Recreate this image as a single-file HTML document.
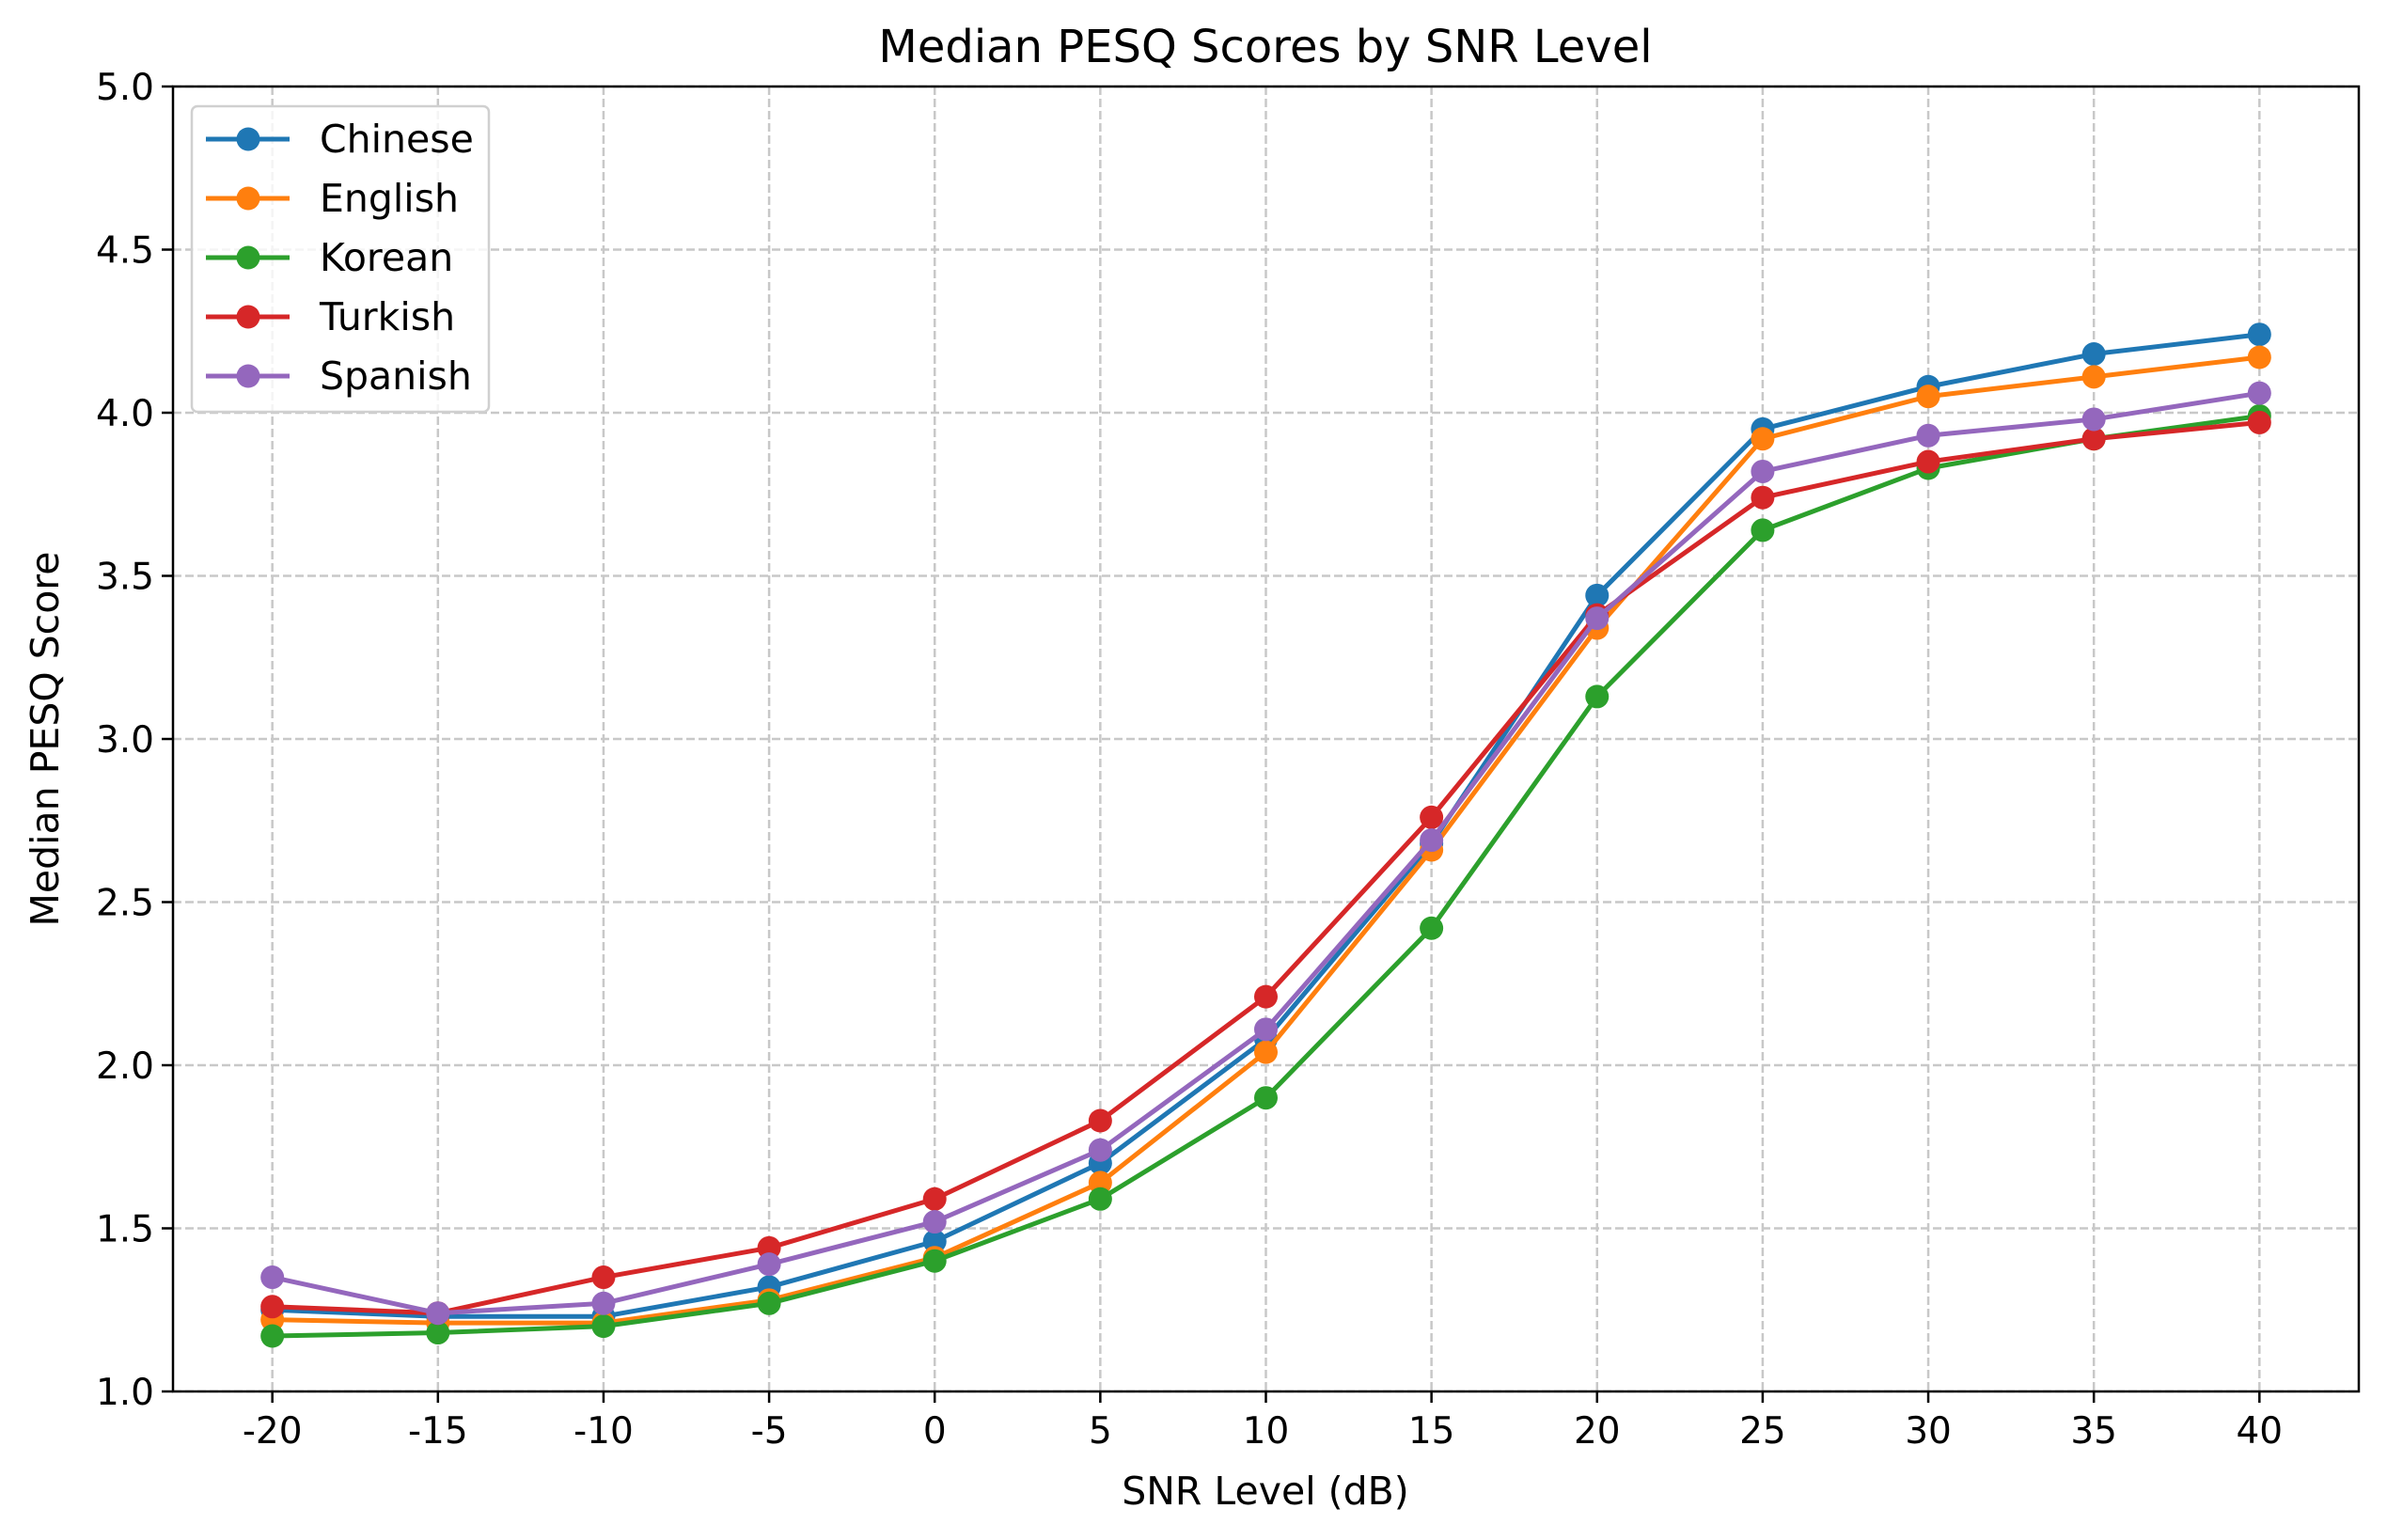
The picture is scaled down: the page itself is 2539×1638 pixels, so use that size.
<!DOCTYPE html>
<html><head><meta charset="utf-8"><style>
html,body{margin:0;padding:0;background:#fff;}
svg{display:block;font-family:"DejaVu Sans","Liberation Sans",sans-serif;}
</style></head><body>
<svg id="chart" width="2539" height="1638" viewBox="0 0 2539 1638">
<rect width="2539" height="1638" fill="#fff"/>
<g id="grid"></g>
<g id="series"></g>
<rect x="184" y="92" width="2325" height="1388" fill="none" stroke="#000" stroke-width="2.5"/>
<g id="ticks"></g>
<text x="1346" y="66" font-size="48" text-anchor="middle">Median PESQ Scores by SNR Level</text>
<text x="1346" y="1600" font-size="41" text-anchor="middle">SNR Level (dB)</text>
<text x="62" y="786" font-size="41" text-anchor="middle" transform="rotate(-90 62 786)">Median PESQ Score</text>
<g id="legend">
<rect x="204" y="113" width="316" height="325" rx="6" fill="#fff" fill-opacity="0.8" stroke="#d0d0d0" stroke-width="2.5"/>
</g>
</svg>
<script>
const categories = ["-20","-15","-10","-5","0","5","10","15","20","25","30","35","40"];
const seriesNames = ["Chinese","English","Korean","Turkish","Spanish"];
const chinese = [1.25,1.23,1.23,1.32,1.46,1.70,2.08,2.68,3.44,3.95,4.08,4.18,4.24];
const english = [1.22,1.21,1.21,1.28,1.41,1.64,2.04,2.66,3.34,3.92,4.05,4.11,4.17];
const korean  = [1.17,1.18,1.20,1.27,1.40,1.59,1.90,2.42,3.13,3.64,3.83,3.92,3.99];
const turkish = [1.26,1.24,1.35,1.44,1.59,1.83,2.21,2.76,3.38,3.74,3.85,3.92,3.97];
const spanish = [1.35,1.24,1.27,1.39,1.52,1.74,2.11,2.69,3.37,3.82,3.93,3.98,4.06];
const yTicks = [1.0,1.5,2.0,2.5,3.0,3.5,4.0,4.5,5.0];
const yTickLabels = ["1.0","1.5","2.0","2.5","3.0","3.5","4.0","4.5","5.0"];

const colors = ["#1f77b4","#ff7f0e","#2ca02c","#d62728","#9467bd"];
const allSeries = [chinese,english,korean,turkish,spanish];
const L=184,R=2509,T=92,B=1480;
const n=categories.length;
const step=(R-L)/(n-1+1.2);
function xScale(i){return L+step*(0.6+i);}
function yScale(v){return B-(v-1)/(5-1)*(B-T);}
const NS="http://www.w3.org/2000/svg";
function mk(tag,attrs,parent){const e=document.createElementNS(NS,tag);for(const k in attrs)e.setAttribute(k,attrs[k]);parent.appendChild(e);return e;}
const grid=document.getElementById('grid'),ticks=document.getElementById('ticks'),ser=document.getElementById('series'),leg=document.getElementById('legend');
categories.forEach((c,i)=>{
  const x=xScale(i);
  const g=mk('line',{x1:x,x2:x,y1:T,y2:B,stroke:'#c8c8c8','stroke-width':2.5,'stroke-dasharray':'9,4'},grid);
  
  
  const t=mk('line',{x1:x,x2:x,y1:B,y2:B+12,stroke:'#000','stroke-width':2.5},ticks);
  
  
  const l=mk('text',{x:x,y:B+55,'font-size':39,'text-anchor':'middle'},ticks);
  l.textContent=c;
  
  
});
yTicks.forEach((v,i)=>{
  const y=yScale(v);
  const g=mk('line',{x1:L,x2:R,y1:y,y2:y,stroke:'#c8c8c8','stroke-width':2.5,'stroke-dasharray':'9,4'},grid);
  
  
  const t=mk('line',{x1:L-12,x2:L,y1:y,y2:y,stroke:'#000','stroke-width':2.5},ticks);
  
  
  const l=mk('text',{x:L-20,y:y+14,'font-size':39,'text-anchor':'end'},ticks);
  l.textContent=yTickLabels[i];
  
  
});
allSeries.forEach((vals,s)=>{
  const g=mk('g',{},ser);
  
  
  const pts=vals.map((v,i)=>xScale(i)+','+yScale(v)).join(' ');
  const pl=mk('polyline',{points:pts,fill:'none',stroke:colors[s],'stroke-width':5,'stroke-linejoin':'round'},g);
  
  
  vals.forEach((v,i)=>{
    const c=mk('circle',{cx:xScale(i),cy:yScale(v),r:12.5,fill:colors[s]},g);
    
    
  });
  const ly=148+s*63;
  const e=mk('g',{},leg);
  
  
  mk('line',{x1:219,x2:308,y1:ly,y2:ly,stroke:colors[s],'stroke-width':5},e);
  mk('circle',{cx:264,cy:ly,r:12.5,fill:colors[s]},e);
  const tx=mk('text',{x:340,y:ly+14,'font-size':41},e);
  tx.textContent=seriesNames[s];
});
</script>
</body></html>
